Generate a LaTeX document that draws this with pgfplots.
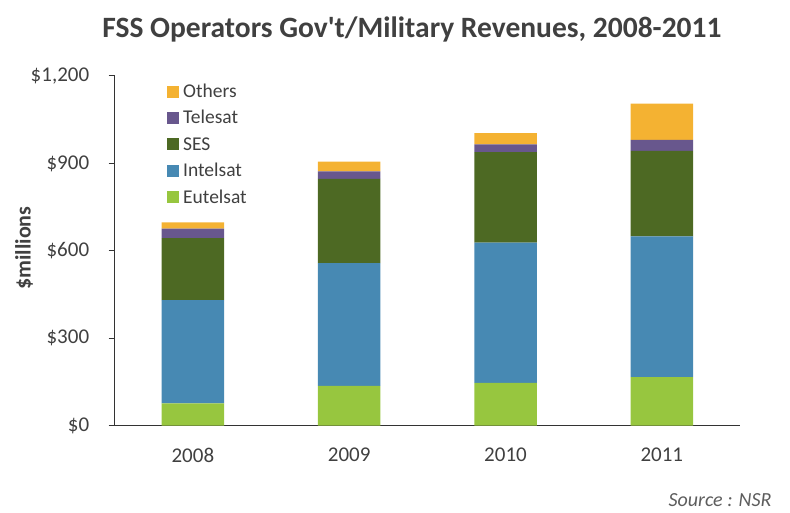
\documentclass[border=0pt]{standalone}
\usepackage{pgfplots}
\pgfplotsset{compat=1.18}
\usepackage{fontspec}
\setmainfont{Carlito}
\newfontfamily\titlefont[Ligatures=TeXOff]{Carlito}
\definecolor{cEut}{HTML}{97C63F}
\definecolor{cInt}{HTML}{4789B3}
\definecolor{cSES}{HTML}{4D6923}
\definecolor{cTel}{HTML}{68578D}
\definecolor{cOth}{HTML}{F4B232}
\definecolor{txt}{HTML}{404040}
\definecolor{axc}{HTML}{333333}
\pgfplotstableread{
x E I S T O
0 77 354 213 32 22
1 136.5 421.5 289 26 33
2 147 481 311 26 39
3 167 483 293 38 124
}\data
\begin{document}
\begin{tikzpicture}[x=1pt,y=1pt]
\useasboundingbox (0,0) rectangle (790,513);
\begin{axis}[
  at={(114.7pt,87.3pt)}, anchor=south west,
  scale only axis, width=625.3pt, height=349.7pt,
  ybar stacked, bar width=0.4, bar shift=0pt,
  xmin=-0.5, xmax=3.5, ymin=0, ymax=1200,
  axis x line*=bottom, axis y line*=left,
  axis line style={axc, line width=1pt, -},
  xtick={0,1,2,3}, xticklabels={2008,2009,2010,2011},
  xtick style={draw=none},
  extra x ticks={-0.5,0.5,1.5,2.5,3.5}, extra x tick labels={},
  extra x tick style={tick style={axc, line width=1pt}, major tick length=6pt, tick align=outside, grid=none},
  ytick={0,300,600,900,1200}, yticklabels={\$0,\$300,\$600,\$900,{\$1,200}},
  ytick style={axc, line width=1pt}, major tick length=6pt, tick align=outside,
  tick label style={font=\fontsize{21}{24}\selectfont, text=txt},
  xticklabel style={yshift=-13pt},
  yticklabel style={xshift=-16pt},
  /pgf/number format/assume math mode=true,
  legend style={at={(0.0836,0.976)}, anchor=north west, draw=none, fill=none,
    font=\fontsize{19.5}{22}\selectfont, text=txt, inner sep=0pt,
    row sep=9.4pt,
    nodes={inner sep=0pt, text height=13pt, text depth=4pt, anchor=base west}},
  legend cell align=left,
  /tikz/every odd column/.style={column sep=4pt},
  legend image code/.code={\fill[#1,draw=none] (0pt,0pt) rectangle (12pt,12pt);},
  reverse legend,
  clip=false,
]
\addplot[fill=cEut, draw=none] table[x=x,y=E]{\data};
\addplot[fill=cInt, draw=none] table[x=x,y=I]{\data};
\addplot[fill=cSES, draw=none] table[x=x,y=S]{\data};
\addplot[fill=cTel, draw=none] table[x=x,y=T]{\data};
\addplot[fill=cOth, draw=none] table[x=x,y=O]{\data};
\legend{Eutelsat,Intelsat,SES,Telesat,Others}
\end{axis}
\node[font=\titlefont\bfseries\fontsize{29.5}{32}\selectfont, text=txt, anchor=base] at (412,475.7) {FSS Operators Gov't/Military Revenues, 2008-2011};
\node[font=\bfseries\fontsize{22}{24}\selectfont, text=txt, rotate=90] at (24,265) {\$millions};
\node[font=\itshape\fontsize{20}{22}\selectfont, text=txt!85!white, anchor=base east] at (775,6) {Source : NSR};
\end{tikzpicture}
\end{document}
